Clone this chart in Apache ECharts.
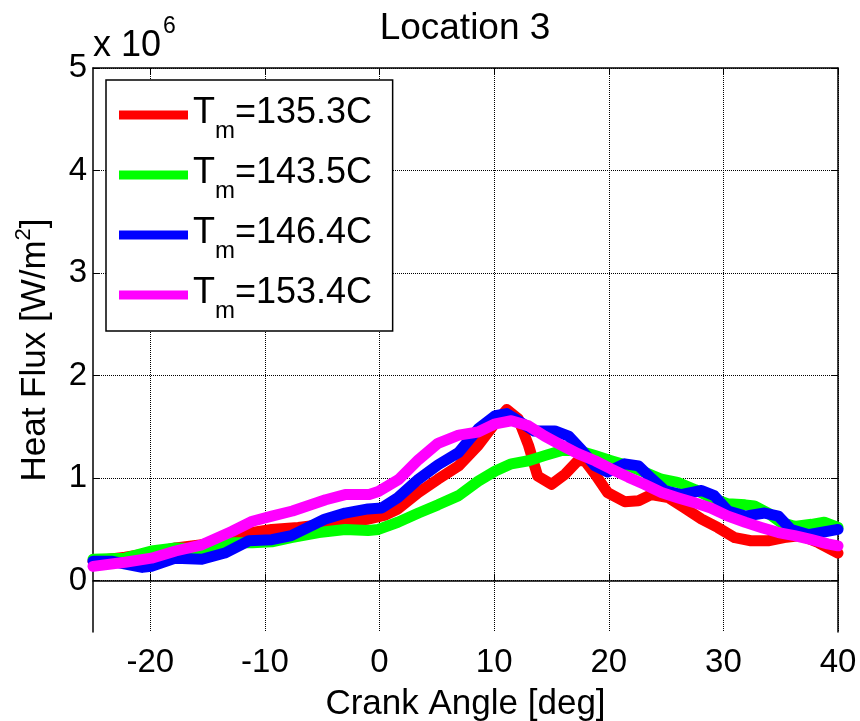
<!DOCTYPE html>
<html>
<head>
<meta charset="utf-8">
<script src="https://cdn.jsdelivr.net/npm/echarts@6/dist/echarts.min.js"></script>
<style>html,body{margin:0;padding:0;background:#fff}#c{width:860px;height:721px}</style>
</head>
<body>
<div id="c"></div>
<script>
// Crank angle [deg] and heat flux [x 10^6 W/m^2]
const redX = [-25,-22.2,-19.9,-17.8,-15.5,-12.9,-11.1,-9.4,-7.1,-4.8,-3.0,-1.0,0.5,1.6,3.4,5.1,6.9,8.6,10.1,11.1,12.1,13.0,13.8,15.0,16.2,17.3,17.9,18.8,19.9,21.4,22.6,23.7,25.2,26.6,28.1,29.5,31.0,32.4,33.9,35.3,36.8,38.3,40];
const redY = [0.19,0.23,0.27,0.32,0.35,0.43,0.47,0.50,0.52,0.55,0.58,0.60,0.64,0.70,0.86,0.99,1.12,1.32,1.54,1.67,1.58,1.32,1.02,0.94,1.04,1.17,1.17,1.04,0.86,0.77,0.78,0.84,0.81,0.71,0.60,0.52,0.42,0.39,0.39,0.42,0.44,0.37,0.27];
const greenX = [-25,-22.2,-19.9,-17.8,-15.5,-12.9,-11.1,-9.4,-7.7,-5.3,-3.0,-1.0,-0.1,1.6,3.4,5.1,6.9,8.6,10.1,11.5,13.0,14.4,15.9,17.3,18.8,20.2,21.7,23.1,24.6,26.0,27.5,28.9,30.4,31.9,32.7,33.9,35.0,36.2,37.7,38.8,40];
const greenY = [0.21,0.22,0.29,0.32,0.31,0.37,0.37,0.38,0.42,0.47,0.50,0.49,0.50,0.57,0.66,0.74,0.83,0.97,1.07,1.14,1.17,1.22,1.27,1.27,1.22,1.17,1.12,1.06,0.99,0.96,0.89,0.81,0.75,0.74,0.73,0.66,0.57,0.53,0.55,0.57,0.52];
const blueX = [-25,-23.4,-20.7,-19.9,-17.8,-15.5,-13.5,-11.4,-9.4,-7.7,-4.8,-3.0,-1.0,0.2,1.6,3.4,5.1,6.9,8.6,10.1,11.1,12.1,13.5,15.3,16.5,17.6,18.8,19.9,21.4,22.6,23.7,24.9,26.3,28.1,29.2,30.4,31.9,33.6,34.8,35.9,37.4,38.5,40];
const blueY = [0.19,0.19,0.13,0.14,0.22,0.21,0.27,0.39,0.40,0.44,0.60,0.66,0.70,0.71,0.81,0.99,1.13,1.25,1.48,1.61,1.63,1.56,1.46,1.46,1.41,1.28,1.12,1.06,1.14,1.12,1.00,0.88,0.84,0.88,0.83,0.68,0.63,0.66,0.63,0.50,0.45,0.47,0.50];
const magentaX = [-25,-22.2,-19.9,-17.8,-15.5,-12.9,-11.1,-9.4,-7.6,-4.7,-3.0,-0.9,-0.1,1.7,3.4,5.1,6.9,8.6,10.1,11.5,13.0,14.4,15.9,17.3,18.8,20.2,21.7,23.1,24.6,26.0,27.5,28.9,30.4,31.9,33.3,34.8,36.2,37.7,39.1,40];
const magentaY = [0.14,0.18,0.22,0.29,0.35,0.48,0.58,0.63,0.68,0.79,0.84,0.84,0.87,0.99,1.18,1.34,1.42,1.45,1.53,1.56,1.51,1.41,1.32,1.24,1.17,1.09,1.01,0.94,0.86,0.81,0.76,0.71,0.63,0.57,0.52,0.47,0.44,0.40,0.36,0.34];

const seriesNames = ['135.3', '143.5', '146.4', '153.4'];
const seriesColors = ['#ff0000', '#00ff00', '#0000ff', '#ff00ff'];
const xTicks = [-20, -10, 0, 10, 20, 30, 40];
const yTicks = [0, 1, 2, 3, 4, 5];

const seriesX = [redX, greenX, blueX, magentaX];
const seriesY = [redY, greenY, blueY, magentaY];

const FONT = '"Liberation Sans", Arial, Helvetica, sans-serif';

const chart = echarts.init(document.getElementById('c'), null, {renderer: 'canvas'});

const series = seriesNames.map((n, i) => ({
  name: n,
  type: 'line',
  data: seriesX[i].map((x, j) => [x, seriesY[i][j]]),
  showSymbol: false,
  symbol: 'none',
  color: seriesColors[i],
  lineStyle: {width: 11, color: seriesColors[i], join: 'round', cap: 'round'},
  z: 2 + i
}));

const option = {
  animation: false,
  backgroundColor: '#fff',
  textStyle: {fontFamily: FONT, color: '#000'},
  title: {
    text: 'Location 3',
    left: 460,
    top: 5,
    textAlign: 'center',
    textStyle: {fontFamily: FONT, fontSize: 37, fontWeight: 'normal', color: '#000'}
  },
  grid: {left: 93, right: 22, top: 68, bottom: 89, show: false, containLabel: false, outerBoundsMode: 'none'},
  legend: {
    orient: 'vertical',
    left: 106,
    top: 80,
    padding: [15, 20, 8, 13],
    itemGap: 12,
    itemWidth: 69,
    itemHeight: 9,
    icon: 'rect',
    lineStyle: {width: 9},
    backgroundColor: '#fff',
    borderColor: '#000',
    borderWidth: 1.5,
    borderRadius: 0,
    data: seriesNames,
    formatter: n => '{t|T}{s|m}{t|=' + n + 'C}{h| }',
    textStyle: {
      fontFamily: FONT,
      color: '#000',
      padding: [8, 0, 0, 0],
      rich: {
        t: {fontFamily: FONT, fontSize: 36, lineHeight: 30, verticalAlign: 'top', color: '#000'},
        s: {fontFamily: FONT, fontSize: 24, lineHeight: 24, verticalAlign: 'bottom', color: '#000'},
        h: {fontFamily: FONT, fontSize: 2, lineHeight: 48, color: '#000'}
      }
    }
  },
  xAxis: [{
    type: 'value',
    min: -25,
    max: 40,
    position: 'bottom',
    name: 'Crank Angle [deg]',
    nameLocation: 'middle',
    nameGap: 55,
    nameTextStyle: {fontFamily: FONT, fontSize: 35, color: '#000', verticalAlign: 'top'},
    axisLine: {show: true, lineStyle: {color: '#000', width: 1.5}},
    axisTick: {show: true, inside: true, length: 7, customValues: xTicks, lineStyle: {color: '#000', width: 1}},
    axisLabel: {show: true, customValues: xTicks, margin: 14, fontFamily: FONT, fontSize: 33, color: '#000'},
    splitLine: {show: true, lineStyle: {type: 'dotted', color: '#000', width: 1}}
  }, {
    type: 'value',
    min: -25,
    max: 40,
    position: 'top',
    axisLine: {show: true, onZero: false, lineStyle: {color: '#000', width: 1.5}},
    axisTick: {show: true, inside: true, length: 7, customValues: xTicks, lineStyle: {color: '#000', width: 1}},
    axisLabel: {show: false},
    splitLine: {show: false}
  }],
  yAxis: [{
    type: 'value',
    min: -0.5,
    max: 5,
    position: 'left',
    name: '{n|Heat Flux [W/m}{s|2}{n|]}',
    nameLocation: 'middle',
    nameRotate: 90,
    nameGap: 40,
    nameTextStyle: {
      fontFamily: FONT, color: '#000',
      rich: {
        n: {fontFamily: FONT, fontSize: 35, lineHeight: 40, verticalAlign: 'bottom', color: '#000'},
        s: {fontFamily: FONT, fontSize: 22, lineHeight: 22, verticalAlign: 'top', color: '#000'}
      }
    },
    axisLine: {show: true, onZero: false, lineStyle: {color: '#000', width: 1.5}},
    axisTick: {show: true, inside: true, length: 7, customValues: yTicks, lineStyle: {color: '#000', width: 1}},
    axisLabel: {show: true, customValues: yTicks, margin: 6, fontFamily: FONT, fontSize: 33, color: '#000'},
    splitLine: {show: true, lineStyle: {type: 'dotted', color: '#000', width: 1}}
  }, {
    type: 'value',
    min: -0.5,
    max: 5,
    position: 'right',
    axisLine: {show: true, onZero: false, lineStyle: {color: '#000', width: 1.5}},
    axisTick: {show: true, inside: true, length: 7, customValues: yTicks, lineStyle: {color: '#000', width: 1}},
    axisLabel: {show: false},
    splitLine: {show: false}
  }],
  graphic: [
    {type: 'text', left: 93, top: 28, style: {text: 'x 10', fontFamily: FONT, fontSize: 36, fill: '#000'}},
    {type: 'text', left: 163, top: 15, style: {text: '6', fontFamily: FONT, fontSize: 23, fill: '#000'}}
  ],
  series: series
};
chart.setOption(option);
</script>
</body>
</html>
